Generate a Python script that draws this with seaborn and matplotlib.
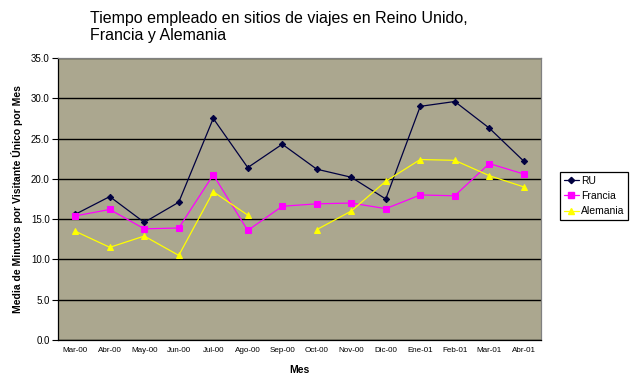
import numpy as np
import pandas as pd
import matplotlib
matplotlib.use("Agg")
import matplotlib.pyplot as plt
import seaborn as sns

meses = ["Mar-00", "Abr-00", "May-00", "Jun-00", "Jul-00", "Ago-00", "Sep-00",
         "Oct-00", "Nov-00", "Dic-00", "Ene-01", "Feb-01", "Mar-01", "Abr-01"]
ru = [15.6, 17.8, 14.6, 17.1, 27.5, 21.4, 24.3, 21.2, 20.2, 17.5, 29.0, 29.6, 26.3, 22.2]
francia = [15.4, 16.2, 13.8, 13.9, 20.5, 13.6, 16.6, 16.9, 17.0, 16.3, 18.0, 17.9, 21.9, 20.6]
alemania = [13.5, 11.5, 12.9, 10.5, 18.4, 15.5, np.nan, 13.7, 16.0, 19.7, 22.4, 22.3, 20.4, 19.0]
series = ["RU", "Francia", "Alemania"]
valores = [ru, francia, alemania]

title = "Tiempo empleado en sitios de viajes en Reino Unido,\nFrancia y Alemania"
ylabel = "Media de Minutos por Visitante Único por Mes"
xlabel = "Mes"

rows = []
for name, vals in zip(series, valores):
    seg = 0
    for i, v in enumerate(vals):
        if np.isnan(v):
            seg += 1
            continue
        rows.append({"Mes": meses[i], "pos": i, "valor": v, "serie": name,
                     "seg": f"{name}-{seg}"})
df = pd.DataFrame(rows)

sns.set_theme(style="white")
plt.rcParams["font.family"] = ["Liberation Sans", "DejaVu Sans"]
plt.rcParams.update({"text.color": "black", "axes.labelcolor": "black",
                     "xtick.color": "black", "ytick.color": "black"})

fig = plt.figure(figsize=(6.33, 3.87), dpi=100)
ax = fig.add_axes([58 / 633, 1 - 340 / 387, (541 - 58) / 633, (340 - 58) / 387])
ax.set_facecolor("#aba78f")

palette = {"RU": "#000040", "Francia": "#ff00ff", "Alemania": "#ffff00"}
markers = {"RU": "D", "Francia": "s", "Alemania": "^"}
sizes = {"RU": 3.2, "Francia": 4.5, "Alemania": 5}

ax.set_axisbelow(True)
ax.yaxis.grid(True, color="black", linewidth=1.0)

handles = []
for name in series:
    sub = df[df["serie"] == name]
    sns.lineplot(data=sub, x="pos", y="valor", units="seg", estimator=None,
                 color=palette[name], marker=markers[name],
                 markersize=sizes[name], markeredgecolor=palette[name],
                 linewidth=0.9, ax=ax, legend=False)
    h, = ax.plot([], [], color=palette[name], marker=markers[name],
                 markersize=sizes[name], markeredgecolor=palette[name],
                 linewidth=0.9, label=name)
    handles.append(h)

ax.set_xlim(-0.5, len(meses) - 0.5)
ax.set_ylim(0, 35)
ax.set_yticks(np.arange(0, 35.1, 5))
ax.set_yticklabels([f"{v:.1f}" for v in np.arange(0, 35.1, 5)], fontsize=7)
ax.set_xticks(range(len(meses)))
ax.set_xticklabels(meses, fontsize=5.8)
ax.set_xticks(np.arange(-0.5, len(meses), 1), minor=True)
ax.tick_params(axis="x", which="major", length=0, pad=5)
ax.tick_params(axis="x", which="minor", length=4, width=0.8, color="black", direction="out")
ax.tick_params(axis="y", which="major", length=4, width=0.8, color="black", direction="out", pad=2, left=True)

for s in ["left", "bottom"]:
    ax.spines[s].set_color("black")
    ax.spines[s].set_linewidth(0.9)
for s in ["top", "right"]:
    ax.spines[s].set_color("#808080")
    ax.spines[s].set_linewidth(0.9)

ax.set_xlabel(xlabel, fontsize=7.5, fontweight="bold", labelpad=8)
ax.set_ylabel(ylabel, fontsize=7.5, fontweight="bold", labelpad=6)

fig.text(90 / 633, 1 - 11 / 387, title, fontsize=11.5, ha="left", va="top", linespacing=1.15)

leg = ax.legend(handles=handles, loc="center left", bbox_to_anchor=(560 / 633, 1 - 196 / 387),
                bbox_transform=fig.transFigure, fontsize=7.5, frameon=True, fancybox=False,
                edgecolor="black", framealpha=1, handlelength=1.5, handletextpad=0.2,
                borderpad=0.35, labelspacing=0.5, borderaxespad=0)
leg.get_frame().set_linewidth(0.9)

fig.savefig("out.png", dpi=100)
